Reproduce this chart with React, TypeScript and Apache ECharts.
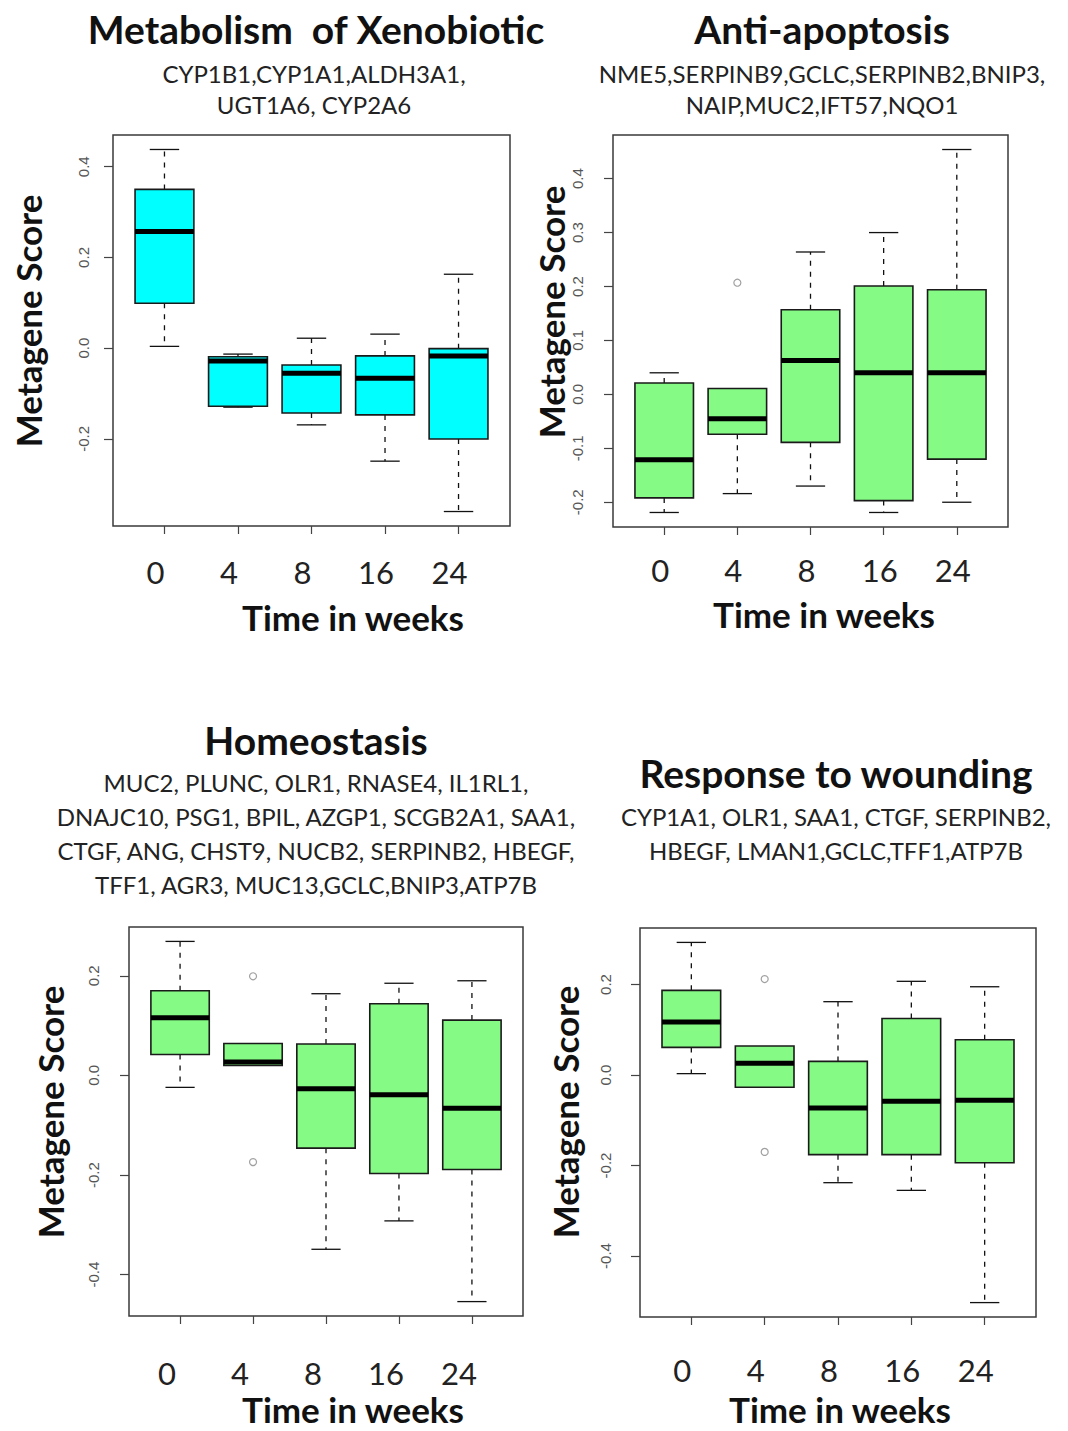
import React, { useEffect, useRef } from "react";
import * as echarts from "echarts";

// ---- data ----
const weeks = ["0", "4", "8", "16", "24"];

// five-number summaries per week: [lower whisker, Q1, median, Q3, upper whisker]
const xenobioticStats = [
  [0.004, 0.099, 0.257, 0.35, 0.438],
  [-0.13, -0.128, -0.028, -0.019, -0.013],
  [-0.169, -0.143, -0.055, -0.037, 0.022],
  [-0.249, -0.147, -0.066, -0.017, 0.031],
  [-0.36, -0.2, -0.017, -0.001, 0.163],
];
const xenobioticOutliers: number[][] = [];

const antiApoptosisStats = [
  [-0.219, -0.192, -0.121, 0.021, 0.04],
  [-0.184, -0.074, -0.045, 0.011, 0.011],
  [-0.17, -0.089, 0.063, 0.157, 0.264],
  [-0.219, -0.197, 0.04, 0.201, 0.3],
  [-0.2, -0.12, 0.04, 0.194, 0.454],
];
const antiApoptosisOutliers = [[2, 0.207]];

const homeostasisStats = [
  [-0.024, 0.042, 0.116, 0.17, 0.269],
  [0.02, 0.02, 0.027, 0.064, 0.064],
  [-0.349, -0.146, -0.027, 0.063, 0.164],
  [-0.292, -0.197, -0.039, 0.144, 0.185],
  [-0.454, -0.189, -0.066, 0.111, 0.19],
];
const homeostasisOutliers = [
  [2, 0.199],
  [2, -0.174],
];

const woundingStats = [
  [0.003, 0.061, 0.117, 0.187, 0.293],
  [-0.027, -0.027, 0.026, 0.064, 0.064],
  [-0.238, -0.176, -0.073, 0.03, 0.162],
  [-0.255, -0.176, -0.058, 0.125, 0.207],
  [-0.503, -0.194, -0.056, 0.078, 0.195],
];
const woundingOutliers = [
  [2, 0.212],
  [2, -0.17],
];

// y tick labels
const ticksXeno = [-0.2, 0, 0.2, 0.4];
const ticksAnti = [-0.2, -0.1, 0, 0.1, 0.2, 0.3, 0.4];
const ticksHomeo = [-0.4, -0.2, 0, 0.2];
const ticksWound = [-0.4, -0.2, 0, 0.2];

// titles / gene lists
const titleXeno = "Metabolism  of Xenobiotic";
const genesXeno = ["CYP1B1,CYP1A1,ALDH3A1,", "UGT1A6, CYP2A6"];
const titleAnti = "Anti-apoptosis";
const genesAnti = ["NME5,SERPINB9,GCLC,SERPINB2,BNIP3,", "NAIP,MUC2,IFT57,NQO1"];
const titleHomeo = "Homeostasis";
const genesHomeo = [
  "MUC2, PLUNC, OLR1, RNASE4, IL1RL1,",
  "DNAJC10, PSG1, BPIL, AZGP1, SCGB2A1, SAA1,",
  "CTGF, ANG, CHST9, NUCB2, SERPINB2, HBEGF,",
  "TFF1, AGR3, MUC13,GCLC,BNIP3,ATP7B",
];
const titleWound = "Response to wounding";
const genesWound = ["CYP1A1, OLR1, SAA1, CTGF, SERPINB2,", "HBEGF, LMAN1,GCLC,TFF1,ATP7B"];

const yTitle = "Metagene Score";
const xTitle = "Time in weeks";

const CYAN = "#00FFFF";
const GREEN = "#85FA85";
const FONT = "Lato, 'Open Sans', sans-serif";

type Panel = {
  stats: number[][];
  outliers: number[][];
  ticks: number[];
  color: string;
  frame: { l: number; r: number; t: number; b: number };
  title: string;
  genes: string[];
  titlePos: [number, number];
  geneY0: number;
  geneStep: number;
  geneX: number;
  xTitlePos: [number, number];
  yTitlePos: [number, number];
  labelShift: number;
  labelMargin: number;
  yLabelMargin: number;
};

const panels: Panel[] = [
  {
    stats: xenobioticStats,
    outliers: xenobioticOutliers,
    ticks: ticksXeno,
    color: CYAN,
    frame: { l: 113, r: 510, t: 135, b: 526 },
    title: titleXeno,
    genes: genesXeno,
    titlePos: [316, 29],
    geneY0: 73,
    geneStep: 31,
    geneX: 314,
    xTitlePos: [353, 617],
    yTitlePos: [28, 321],
    labelShift: -9,
    labelMargin: 30,
    yLabelMargin: 22,
  },
  {
    stats: antiApoptosisStats,
    outliers: antiApoptosisOutliers,
    ticks: ticksAnti,
    color: GREEN,
    frame: { l: 613, r: 1008, t: 135, b: 527 },
    title: titleAnti,
    genes: genesAnti,
    titlePos: [822, 29],
    geneY0: 73,
    geneStep: 31,
    geneX: 822,
    xTitlePos: [824, 614],
    yTitlePos: [551, 312],
    labelShift: -4,
    labelMargin: 27,
    yLabelMargin: 28,
  },
  {
    stats: homeostasisStats,
    outliers: homeostasisOutliers,
    ticks: ticksHomeo,
    color: GREEN,
    frame: { l: 129, r: 523, t: 927, b: 1316 },
    title: titleHomeo,
    genes: genesHomeo,
    titlePos: [316, 740],
    geneY0: 782,
    geneStep: 34.3,
    geneX: 316,
    xTitlePos: [353, 1409],
    yTitlePos: [50, 1112],
    labelShift: -13,
    labelMargin: 41,
    yLabelMargin: 28,
  },
  {
    stats: woundingStats,
    outliers: woundingOutliers,
    ticks: ticksWound,
    color: GREEN,
    frame: { l: 640, r: 1036, t: 928, b: 1317 },
    title: titleWound,
    genes: genesWound,
    titlePos: [836, 773],
    geneY0: 816,
    geneStep: 34,
    geneX: 836,
    xTitlePos: [840, 1409],
    yTitlePos: [565, 1112],
    labelShift: -9,
    labelMargin: 37,
    yLabelMargin: 27,
  },
];

function yRange(stats: number[][], outliers: number[][]) {
  const vals: number[] = [];
  stats.forEach((s) => vals.push(...s));
  outliers.forEach((o) => vals.push(o[1]));
  const lo = Math.min(...vals);
  const hi = Math.max(...vals);
  const pad = (hi - lo) * 0.04;
  return [lo - pad, hi + pad];
}

function buildOption() {
  const grid: any[] = [];
  const xAxis: any[] = [];
  const yAxis: any[] = [];
  const series: any[] = [];
  const graphic: any[] = [];

  panels.forEach((p, i) => {
    const { l, r, t, b } = p.frame;
    grid.push({
      left: l,
      top: t,
      width: r - l,
      height: b - t,
      show: true,
      borderColor: "#3a3a3a",
      borderWidth: 1.5,
      backgroundColor: "transparent",
    });
    xAxis.push({
      type: "value",
      gridIndex: i,
      position: "bottom",
      min: 0.3,
      max: 5.7,
      axisLine: { show: false, onZero: false },
      splitLine: { show: false },
      axisTick: {
        show: true,
        customValues: [1, 2, 3, 4, 5],
        length: 8,
        lineStyle: { color: "#444", width: 1.2 },
      },
      axisLabel: {
        customValues: [1, 2, 3, 4, 5],
        formatter: (v: number) => weeks[Math.round(v) - 1] ?? "",
        fontFamily: FONT,
        fontSize: 31,
        color: "#222",
        margin: p.labelMargin,
        padding: p.labelShift < 0 ? [0, -2 * p.labelShift, 0, 0] : [0, 0, 0, 2 * p.labelShift],
      },
    });
    const [ymin, ymax] = yRange(p.stats, p.outliers);
    yAxis.push({
      type: "value",
      gridIndex: i,
      position: "left",
      min: ymin,
      max: ymax,
      axisLine: { show: false, onZero: false },
      splitLine: { show: false },
      axisTick: {
        show: true,
        customValues: p.ticks,
        length: 9,
        lineStyle: { color: "#444", width: 1.2 },
      },
      axisLabel: {
        customValues: p.ticks,
        formatter: (v: number) => v.toFixed(1),
        rotate: 90,
        fontFamily: "'Liberation Sans', Arial, sans-serif",
        fontSize: 15,
        color: "#555",
        margin: p.yLabelMargin,
      },
    });

    const color = p.color;
    series.push({
      type: "custom",
      xAxisIndex: i,
      yAxisIndex: i,
      data: p.stats.map((s, k) => [k + 1, ...s]),
      encode: { x: 0, y: [1, 2, 3, 4, 5] },
      renderItem: (params: any, api: any) => {
        const x = api.value(0);
        const lo = api.value(1);
        const q1 = api.value(2);
        const med = api.value(3);
        const q3 = api.value(4);
        const hi = api.value(5);
        const boxHalf = 0.4;
        const capHalf = 0.2;
        const pLoL = api.coord([x - capHalf, lo]);
        const pLoR = api.coord([x + capHalf, lo]);
        const pHiL = api.coord([x - capHalf, hi]);
        const pHiR = api.coord([x + capHalf, hi]);
        const pC_lo = api.coord([x, lo]);
        const pC_q1 = api.coord([x, q1]);
        const pC_q3 = api.coord([x, q3]);
        const pC_hi = api.coord([x, hi]);
        const bTL = api.coord([x - boxHalf, q3]);
        const bBR = api.coord([x + boxHalf, q1]);
        const mL = api.coord([x - boxHalf, med]);
        const mR = api.coord([x + boxHalf, med]);
        const dash = { stroke: "#111", lineWidth: 1.3, lineDash: [5, 6] };
        const solid = { stroke: "#111", lineWidth: 1.3 };
        const children: any[] = [];
        if (hi > q3) {
          children.push({ type: "line", shape: { x1: pC_q3[0], y1: pC_q3[1], x2: pC_hi[0], y2: pC_hi[1] }, style: dash });
          children.push({ type: "line", shape: { x1: pHiL[0], y1: pHiL[1], x2: pHiR[0], y2: pHiR[1] }, style: solid });
        }
        if (lo < q1) {
          children.push({ type: "line", shape: { x1: pC_q1[0], y1: pC_q1[1], x2: pC_lo[0], y2: pC_lo[1] }, style: dash });
          children.push({ type: "line", shape: { x1: pLoL[0], y1: pLoL[1], x2: pLoR[0], y2: pLoR[1] }, style: solid });
        }
        children.push({
          type: "rect",
          shape: { x: bTL[0], y: bTL[1], width: bBR[0] - bTL[0], height: bBR[1] - bTL[1] },
          style: { fill: color, stroke: "#1a1a1a", lineWidth: 1.6 },
        });
        children.push({
          type: "line",
          shape: { x1: mL[0], y1: mL[1], x2: mR[0], y2: mR[1] },
          style: { stroke: "#000", lineWidth: 5 },
        });
        return { type: "group", children };
      },
    });
    if (p.outliers.length) {
      series.push({
        type: "scatter",
        xAxisIndex: i,
        yAxisIndex: i,
        data: p.outliers,
        symbol: "circle",
        symbolSize: 7,
        itemStyle: { color: "rgba(255,255,255,0)", borderColor: "#888", borderWidth: 1.2 },
      });
    }

    // texts
    graphic.push({
      type: "text",
      x: p.titlePos[0],
      y: p.titlePos[1],
      style: {
        text: p.title,
        fontFamily: FONT,
        fontSize: 39,
        fontWeight: "bold",
        fill: "#111",
        align: "center",
        verticalAlign: "middle",
      },
    });
    p.genes.forEach((g, k) => {
      graphic.push({
        type: "text",
        x: p.geneX,
        y: p.geneY0 + k * p.geneStep,
        style: {
          text: g,
          fontFamily: FONT,
          fontSize: 24,
          fill: "#222",
          align: "center",
          verticalAlign: "middle",
        },
      });
    });
    graphic.push({
      type: "text",
      x: p.xTitlePos[0],
      y: p.xTitlePos[1],
      style: {
        text: xTitle,
        fontFamily: FONT,
        fontSize: 35,
        fontWeight: "bold",
        fill: "#111",
        align: "center",
        verticalAlign: "middle",
      },
    });
    graphic.push({
      type: "text",
      x: p.yTitlePos[0],
      y: p.yTitlePos[1],
      rotation: Math.PI / 2,
      style: {
        text: yTitle,
        fontFamily: FONT,
        fontSize: 35,
        fontWeight: "bold",
        fill: "#111",
        align: "center",
        verticalAlign: "middle",
      },
    });
  });

  return {
    animation: false,
    backgroundColor: "#fff",
    grid,
    xAxis,
    yAxis,
    series,
    graphic,
  };
}

export default function App() {
  const ref = useRef<HTMLDivElement>(null);
  useEffect(() => {
    if (!ref.current) return;
    const chart = echarts.init(ref.current, undefined, { renderer: "svg" });
    chart.setOption(buildOption() as any);
    return () => chart.dispose();
  }, []);
  return (
    <div
      ref={ref}
      style={{ position: "absolute", left: 0, top: 0, width: 1068, height: 1431, background: "#fff" }}
    />
  );
}
